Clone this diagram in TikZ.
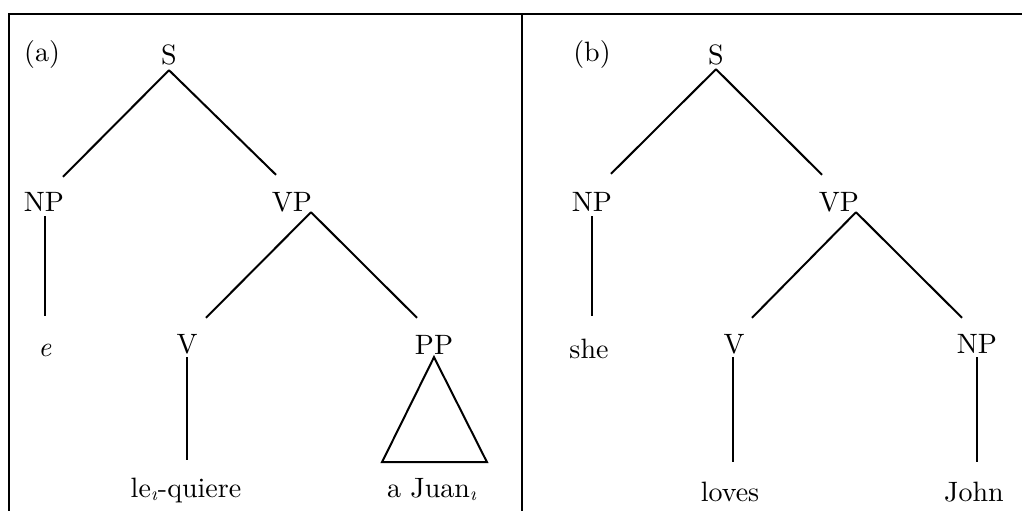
\documentclass[tikz,border=0pt]{standalone}
\usepackage{fontspec}
\setmainfont{lmroman10-regular.otf}[ItalicFont=lmroman10-italic.otf]
\usetikzlibrary{calc}

\begin{document}
\begin{tikzpicture}[
      x=1pt, y=-1pt,
      font=\fontsize{28}{34}\selectfont,
      lbl/.style={inner sep=0pt, text height=20pt, text depth=0pt, anchor=base},
      branch/.style={line width=2pt},
      stem/.style={line width=1.3pt},
      frame/.style={line width=1.3pt}
    ]
    \useasboundingbox (0,0) rectangle (1022,511);
    
    % frame
    \draw[frame] (8,14) -- (1022,14);
    \draw[frame] (9,14) -- (9,511);
    \draw[frame] (522,14) -- (522,511);
    
    % (a)
    \node[lbl] (laba) at (42,62) {(a)};
    \node[lbl] (Sa) at (169,65) {S};
    \node[lbl] (NPa) at (44,211) {NP};
    \node[lbl] (VPa) at (292,211) {VP};
    \node[lbl] (ea) at (45,356) {\textit{e}};
    \node[lbl] (Va) at (187,353) {V};
    \node[lbl] (PPa) at (434,354) {PP};
    \node[lbl] (quiere) at (186,497) {le\textsubscript{\textit{\i}}-quiere};
    \node[lbl] (juan) at (432,497) {a Juan\textsubscript{\textit{\i}}};
    
    \draw[branch] ([yshift=-5pt]Sa.south) -- ([xshift=19pt,yshift=14pt]NPa.north);
    \draw[branch] ([yshift=-5pt]Sa.south) -- ([xshift=-16pt,yshift=16pt]VPa.north);
    \draw[branch] ([xshift=19pt,yshift=-1pt]VPa.south) -- ([xshift=19pt,yshift=15pt]Va.north);
    \draw[branch] ([xshift=19pt,yshift=-1pt]VPa.south) -- ([xshift=-17pt,yshift=16pt]PPa.north);
    \draw[stem] ([xshift=1pt,yshift=-5pt]NPa.south) -- ([yshift=20pt]ea.north);
    \draw[stem] ([yshift=-4pt]Va.south) -- ([xshift=1pt,yshift=17pt]quiere.north);
    \draw[branch] ([yshift=-3pt]PPa.south) -- ++(-52,105) -- ++(105,0) -- cycle;
    
    % (b)
    \node[lbl] (labb) at (592,62) {(b)};
    \node[lbl] (Sb) at (716,65) {S};
    \node[lbl] (NPb) at (592,211) {NP};
    \node[lbl] (VPb) at (839,211) {VP};
    \node[lbl] (she) at (589,358) {she};
    \node[lbl] (Vb) at (734,353) {V};
    \node[lbl] (NPc) at (977,353) {NP};
    \node[lbl] (loves) at (730,501) {loves};
    \node[lbl] (john) at (974,501) {John};
    
    \draw[branch] ([yshift=-4pt]Sb.south) -- ([xshift=19pt,yshift=17pt]NPb.north);
    \draw[branch] ([yshift=-4pt]Sb.south) -- ([xshift=-17pt,yshift=16pt]VPb.north);
    \draw[branch] ([xshift=17pt,yshift=-1pt]VPb.south) -- ([xshift=18pt,yshift=15pt]Vb.north);
    \draw[branch] ([xshift=17pt,yshift=-1pt]VPb.south) -- ([xshift=-15pt,yshift=15pt]NPc.north);
    \draw[stem] ([yshift=-5pt]NPb.south) -- ([xshift=3pt,yshift=22pt]she.north);
    \draw[stem] ([xshift=-1pt,yshift=-4pt]Vb.south) -- ([xshift=3pt,yshift=19pt]loves.north);
    \draw[stem] ([yshift=-4pt]NPc.south) -- ([xshift=3pt,yshift=19pt]john.north);
  \end{tikzpicture}
\end{document}
